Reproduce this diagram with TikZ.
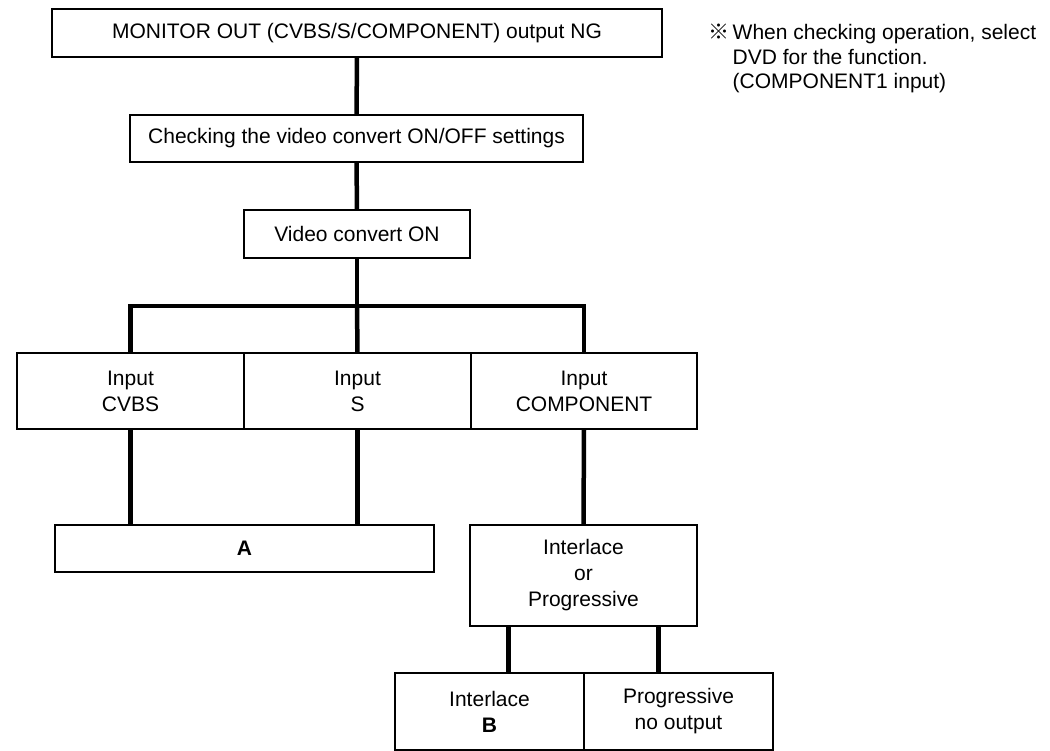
\documentclass[tikz,border=0pt]{standalone}
\usepackage{fontspec}
\setmainfont{Liberation Sans}
\newfontfamily\cjkfont{Noto Sans CJK JP}
\begin{document}
\begin{tikzpicture}[x=1pt,y=-1pt,
  box/.style={draw=black,line width=1.8pt,inner sep=0pt,outer sep=0pt,anchor=north west,
    align=center,font=\fontsize{21}{26}\selectfont},
  conn/.style={draw=black,line width=4.5pt},
]
\useasboundingbox[fill=white] (0,0) rectangle (1050,751);
% boxes
\node[box,minimum width=610pt,minimum height=48pt] (b1) at (52,9) {MONITOR OUT (CVBS/S/COMPONENT) output NG};
\node[box,minimum width=453pt,minimum height=47pt] (b2) at (130,115) {Checking the video convert ON/OFF settings};
\node[box,minimum width=226pt,minimum height=48pt] (b3) at (244,210) {Video convert ON};
\node[box,minimum width=227pt,minimum height=76pt] (i1) at (17,353) {Input\\CVBS};
\node[box,minimum width=227pt,minimum height=76pt] (i2) at (244,353) {Input\\S};
\node[box,minimum width=226pt,minimum height=76pt] (i3) at (471,353) {Input\\COMPONENT};
\node[box,minimum width=379pt,minimum height=47pt] (A) at (55,525) {\textbf{A}};
\node[box,minimum width=227pt,minimum height=101pt] (ip) at (470,525) {Interlace\\or\\Progressive};
\node[box,minimum width=189pt,minimum height=77pt] (c1) at (395,673) {Interlace\\\textbf{B}};
\node[box,minimum width=189pt,minimum height=77pt] (c2) at (584,673) {Progressive\\no output};
% note
\node[anchor=north west,inner sep=0pt,align=left,font=\fontsize{21}{24.5}\selectfont] (note) at (708,24)
  {{\cjkfont ※}\,When checking operation, select\\\hphantom{{\cjkfont ※}\,}DVD for the function.\\\hphantom{{\cjkfont ※}\,}(COMPONENT1 input)};
% connectors
\coordinate (bus) at (357,306);
\draw[conn] (b1.south) -- (b2.north);
\draw[conn] (b2.south) -- (b3.north);
\draw[conn] (b3.south) -- (bus);
\draw[conn] (i1.north) |- (bus) -| (i3.north);
\draw[conn] (bus) -- (i2.north);
\draw[conn] (i1.south) -- (i1.south |- A.north);
\draw[conn] (i2.south) -- (i2.south |- A.north);
\draw[conn] (i3.south) -- (ip.north);
\draw[conn] ([xshift=-75pt]ip.south) -- ([xshift=-75pt]ip.south |- c1.north);
\draw[conn] ([xshift=75pt]ip.south) -- ([xshift=75pt]ip.south |- c2.north);
\end{tikzpicture}
\end{document}
